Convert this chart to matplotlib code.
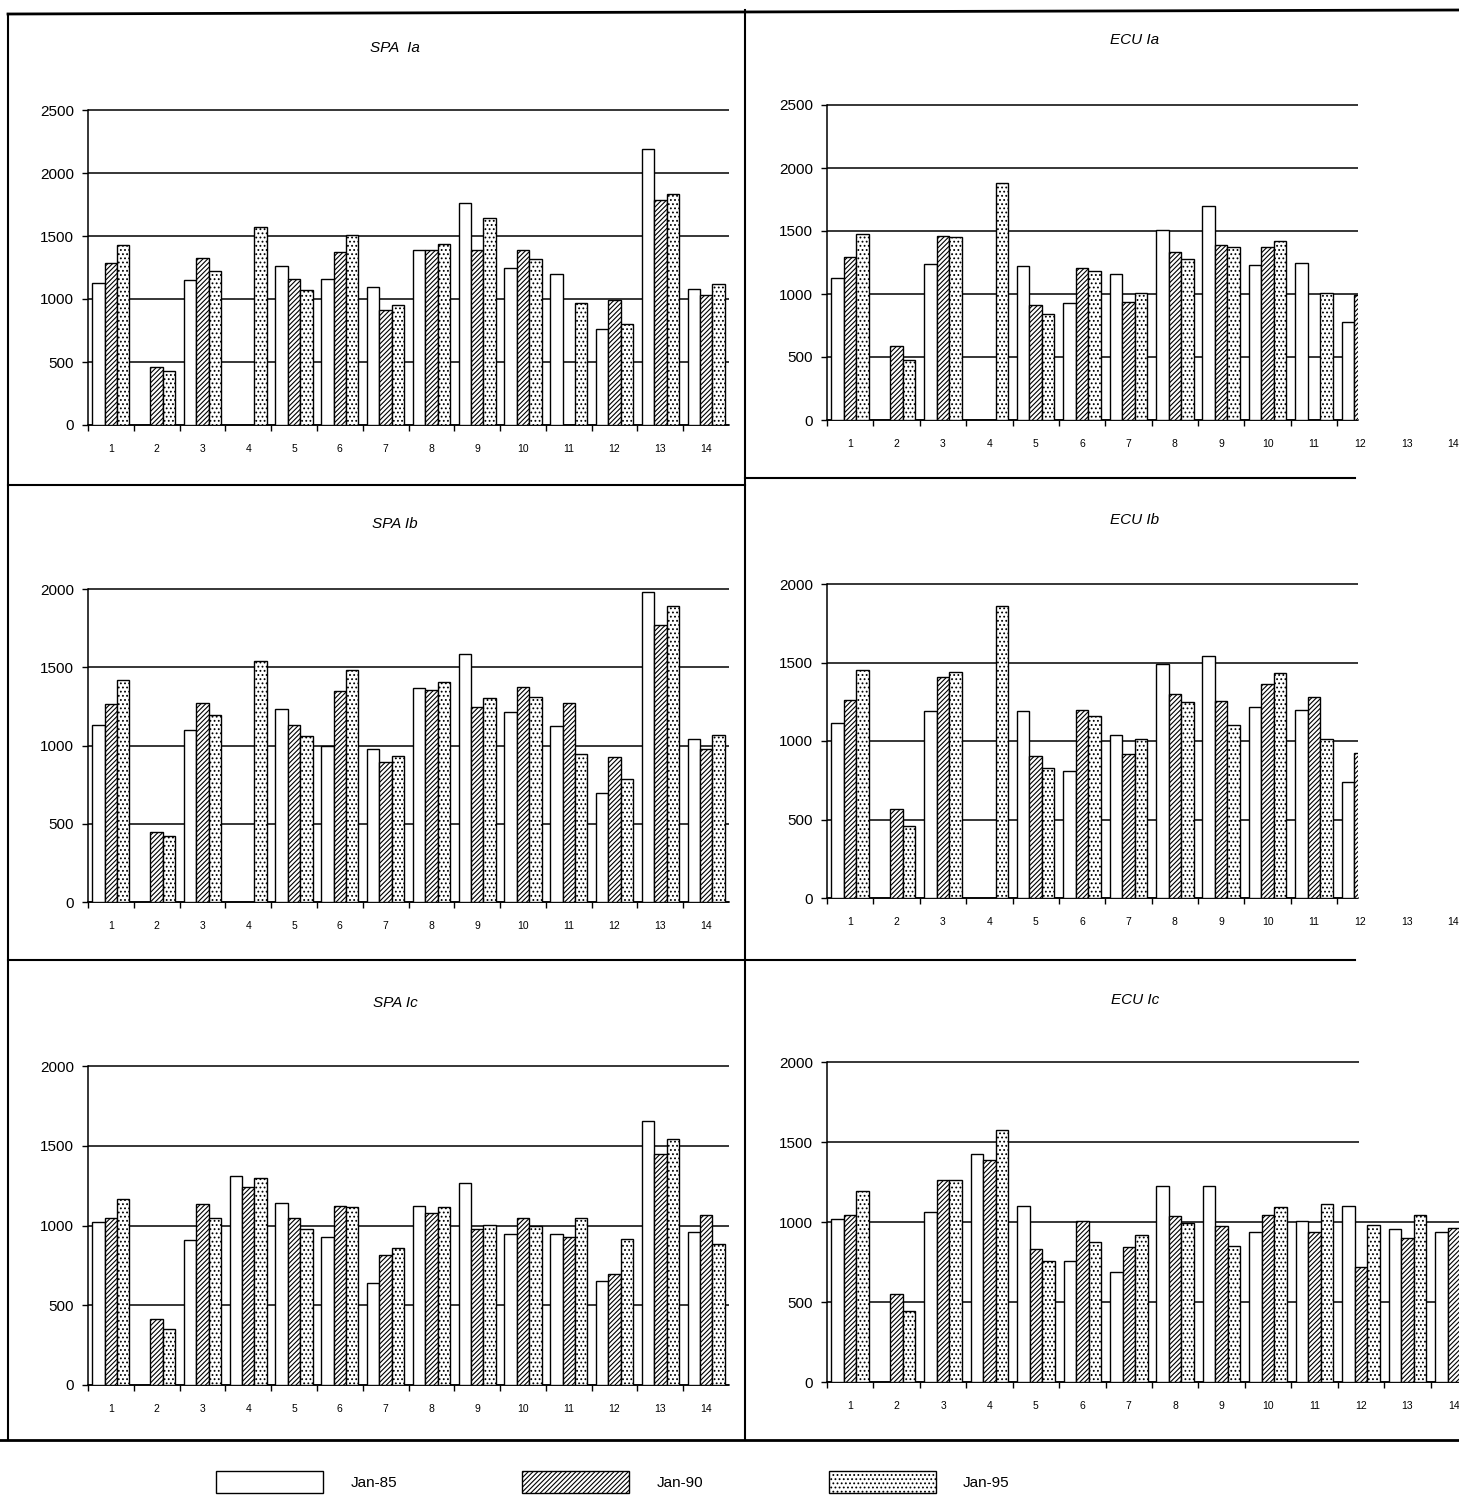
import numpy as np
import matplotlib.pyplot as plt
import matplotlib.transforms as mtransforms
from matplotlib.lines import Line2D
from matplotlib.patches import Patch

plt.rcParams['font.family'] = ['Liberation Sans', 'DejaVu Sans']
plt.rcParams['hatch.linewidth'] = 0.8

nan = np.nan
groups = list(range(1, 15))
series_labels = ['Jan-85', 'Jan-90', 'Jan-95']
hatches = ['', '///////', '....']

# SPA, three levels
spa_ia_85 = [1130, nan, 1150, nan, 1265, 1160, 1095, 1385, 1760, 1250, 1195, 765, 2190, 1080]
spa_ia_90 = [1285, 460, 1325, nan, 1160, 1370, 915, 1385, 1390, 1390, nan, 990, 1785, 1035]
spa_ia_95 = [1430, 430, 1220, 1570, 1075, 1505, 955, 1435, 1640, 1320, 970, 800, 1835, 1120]

spa_ib_85 = [1130, nan, 1100, nan, 1236, 995, 978, 1367, 1587, 1217, 1126, 698, 1983, 1040]
spa_ib_90 = [1265, 449, 1270, nan, 1132, 1348, 897, 1354, 1249, 1371, 1270, 927, 1767, 980]
spa_ib_95 = [1416, 423, 1194, 1540, 1058, 1480, 935, 1403, 1302, 1310, 946, 789, 1892, 1070]

spa_ic_85 = [1020, nan, 912, 1310, 1140, 930, 640, 1120, 1265, 945, 945, 655, 1655, 960]
spa_ic_90 = [1050, 415, 1135, 1240, 1045, 1125, 815, 1080, 980, 1050, 930, 695, 1450, 1065]
spa_ic_95 = [1165, 350, 1050, 1300, 980, 1115, 860, 1115, 1005, 995, 1045, 915, 1545, 885]

# ECU, three levels (Ia and Ib are cut after group 12)
ecu_ia_85 = [1130, nan, 1240, nan, 1220, 930, 1160, 1510, 1700, 1230, 1250, 780, nan, nan]
ecu_ia_90 = [1290, 590, 1460, nan, 910, 1210, 940, 1330, 1390, 1370, nan, 990, nan, nan]
ecu_ia_95 = [1480, 480, 1450, 1880, 840, 1180, 1010, 1280, 1370, 1420, 1010, nan, nan, nan]

ecu_ib_85 = [1115, nan, 1190, nan, 1190, 810, 1040, 1490, 1540, 1215, 1200, 740, nan, nan]
ecu_ib_90 = [1260, 570, 1410, nan, 905, 1200, 920, 1300, 1255, 1360, 1280, 925, nan, nan]
ecu_ib_95 = [1450, 460, 1440, 1860, 830, 1160, 1010, 1250, 1100, 1430, 1015, nan, nan, nan]

ecu_ic_85 = [1020, nan, 1060, 1425, 1100, 755, 685, 1225, 1225, 940, 1005, 1100, 955, 935]
ecu_ic_90 = [1045, 550, 1260, 1385, 830, 1005, 845, 1035, 975, 1045, 935, 720, 900, 965]
ecu_ic_95 = [1195, 445, 1265, 1575, 755, 875, 920, 995, 850, 1095, 1115, 980, 1045, 770]

W, H = 1459, 1498
fig = plt.figure(figsize=(W / 100, H / 100), dpi=100)


def px_rect(x0, y_top, x1, y_bottom):
    return [x0 / W, 1 - y_bottom / H, (x1 - x0) / W, (y_bottom - y_top) / H]


def px_line(x0, y0, x1, y1, lw=1.5):
    fig.add_artist(Line2D([x0 / W, x1 / W], [1 - y0 / H, 1 - y1 / H],
                          color='black', linewidth=lw))


def draw_panel(rect, title, title_xy, values, ymax, xmax, extra_labels=(), short_grid=None):
    ax = fig.add_axes(rect)
    x = np.array(groups, dtype=float)
    w = 0.27
    for k, (vals, hatch) in enumerate(zip(values, hatches)):
        ax.bar(x + (k - 1) * w, vals, w, facecolor='white', edgecolor='black',
               hatch=hatch, linewidth=1.0, zorder=3)

    ax.set_xlim(0.5, xmax)
    ax.set_ylim(0, ymax)
    levels = np.arange(0, ymax + 1, 500)
    for lv in levels:
        end = xmax
        if short_grid is not None and lv > short_grid[0]:
            end = short_grid[1]
        ax.hlines(lv, 0.5, end, color='black', linewidth=1.1, zorder=1, clip_on=False)

    ax.set_yticks(levels)
    ax.set_yticklabels([str(v) for v in levels], fontsize=11)
    ax.tick_params(axis='y', length=4, width=1.0, pad=6)
    visible = [g for g in groups if g <= xmax]
    ax.set_xticks(visible)
    ax.set_xticklabels([str(g) for g in visible], fontsize=7.5)
    ax.set_xticks(np.arange(0.5, xmax, 1), minor=True)
    ax.tick_params(axis='x', which='major', length=0, pad=14)
    ax.tick_params(axis='x', which='minor', length=4, width=1.0)

    # group numbers that fall past the cut edge of the axes
    trans = mtransforms.offset_copy(
        mtransforms.blended_transform_factory(ax.transData, ax.transAxes),
        fig=fig, y=-14, units='points')
    for g in extra_labels:
        ax.text(g, 0, str(g), transform=trans, ha='center', va='top',
                fontsize=7.5, clip_on=False)

    for side in ('top', 'right'):
        ax.spines[side].set_visible(False)
    ax.spines['left'].set_linewidth(1.1)
    ax.spines['bottom'].set_linewidth(1.1)

    fig.text(title_xy[0] / W, 1 - title_xy[1] / H, title, ha='center', va='center',
             fontsize=11, style='italic')
    return ax


draw_panel(px_rect(88, 110, 729, 425), 'SPA  Ia', (395, 48),
           [spa_ia_85, spa_ia_90, spa_ia_95], 2500, 14.5)
draw_panel(px_rect(827, 105, 1358, 420), 'ECU Ia', (1135, 40),
           [ecu_ia_85, ecu_ia_90, ecu_ia_95], 2500, 11.95, extra_labels=(12, 13, 14))
draw_panel(px_rect(88, 589, 729, 902), 'SPA Ib', (395, 524),
           [spa_ib_85, spa_ib_90, spa_ib_95], 2000, 14.5)
draw_panel(px_rect(827, 584, 1358, 898), 'ECU Ib', (1135, 520),
           [ecu_ib_85, ecu_ib_90, ecu_ib_95], 2000, 11.95, extra_labels=(12, 13, 14))
draw_panel(px_rect(88, 1066, 729, 1385), 'SPA Ic', (395, 1003),
           [spa_ic_85, spa_ic_90, spa_ic_95], 2000, 14.5)
draw_panel(px_rect(827, 1062, 1477, 1382), 'ECU Ic', (1135, 1000),
           [ecu_ic_85, ecu_ic_90, ecu_ic_95], 2000, 14.5, short_grid=(1000, 11.95))

# page frame around the panels
px_line(8, 14, 1459, 10, lw=2.0)
px_line(8, 14, 8, 1440)
px_line(745, 10, 745, 1440)
px_line(8, 485, 745, 485)
px_line(745, 478, 1355, 478)
px_line(8, 960, 1355, 960)
px_line(0, 1440, 1459, 1440, lw=2.0)

handles = [Patch(facecolor='white', edgecolor='black', hatch=h, linewidth=1.0, label=l)
           for h, l in zip(hatches, series_labels)]
fig.legend(handles=handles, loc='center', bbox_to_anchor=(0.42, 1 - 1482 / H), ncol=3,
           frameon=False, handlelength=7.0, handleheight=1.8, handletextpad=1.8,
           columnspacing=8.2, fontsize=11)

fig.savefig('out.png', dpi=100, facecolor='white')
